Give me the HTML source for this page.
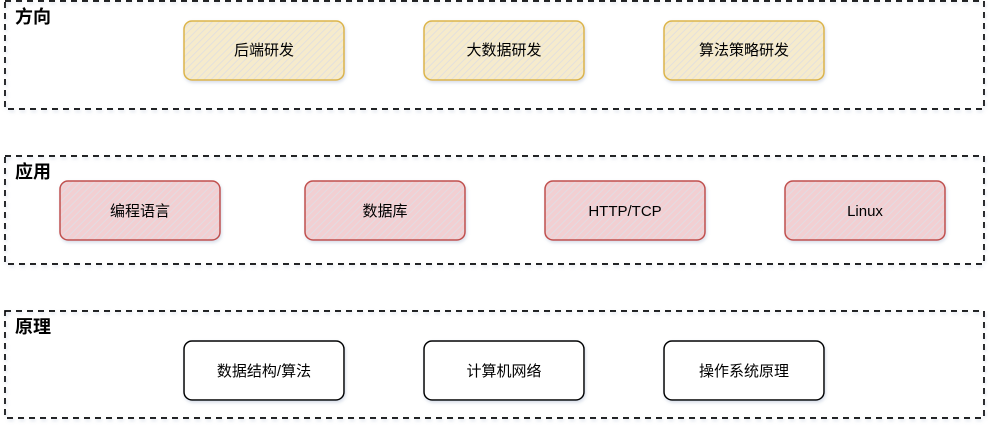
<!DOCTYPE html>
<html><head><meta charset="utf-8"><style>
html,body{margin:0;padding:0;background:#fff;}
svg text{font-family:"Liberation Sans","Noto Sans CJK SC",sans-serif;}
</style></head><body>
<svg width="997" height="434" viewBox="0 0 997 434" xmlns="http://www.w3.org/2000/svg">
<defs>
<pattern id="hy" width="5" height="5" patternUnits="userSpaceOnUse" patternTransform="rotate(45)">
<rect width="5" height="5" fill="#f6ebcc"/><line x1="0" y1="0" x2="0" y2="5" stroke="#e3e0dd" stroke-width="2"/></pattern>
<pattern id="hr" width="5" height="5" patternUnits="userSpaceOnUse" patternTransform="rotate(45)">
<rect width="5" height="5" fill="#f2cfd2"/><line x1="0" y1="0" x2="0" y2="5" stroke="#e2dce2" stroke-width="2"/></pattern>
<filter id="sh" x="-10%" y="-10%" width="120%" height="130%"><feDropShadow dx="1" dy="2" stdDeviation="1.5" flood-color="#8fa0c0" flood-opacity="0.35"/></filter>
</defs>
<g fill="none" stroke="#000" stroke-width="1.7" stroke-dasharray="6 5" filter="url(#sh)">
<rect x="5" y="1" width="979" height="108"/>
<rect x="5" y="156" width="979" height="108"/>
<rect x="5" y="311" width="979" height="107"/>
</g>
<g font-size="18" font-weight="bold" fill="#000">
<text x="15" y="23">方向</text>
<text x="15" y="178">应用</text>
<text x="15" y="333">原理</text>
</g>
<g filter="url(#sh)" stroke-width="1.5">
<rect x="184" y="21" width="160" height="59" rx="8" fill="url(#hy)" stroke="#dcb448"/>
<rect x="424" y="21" width="160" height="59" rx="8" fill="url(#hy)" stroke="#dcb448"/>
<rect x="664" y="21" width="160" height="59" rx="8" fill="url(#hy)" stroke="#dcb448"/>
<rect x="60" y="181" width="160" height="59" rx="8" fill="url(#hr)" stroke="#c0504d"/>
<rect x="305" y="181" width="160" height="59" rx="8" fill="url(#hr)" stroke="#c0504d"/>
<rect x="545" y="181" width="160" height="59" rx="8" fill="url(#hr)" stroke="#c0504d"/>
<rect x="785" y="181" width="160" height="59" rx="8" fill="url(#hr)" stroke="#c0504d"/>
<rect x="184" y="341" width="160" height="59" rx="8" fill="#fff" stroke="#000"/>
<rect x="424" y="341" width="160" height="59" rx="8" fill="#fff" stroke="#000"/>
<rect x="664" y="341" width="160" height="59" rx="8" fill="#fff" stroke="#000"/>
</g>
<g font-size="15" fill="#000" text-anchor="middle">
<text x="264" y="55">后端研发</text>
<text x="504" y="55">大数据研发</text>
<text x="744" y="55">算法策略研发</text>
<text x="140" y="216">编程语言</text>
<text x="385" y="216">数据库</text>
<text x="625" y="216">HTTP/TCP</text>
<text x="865" y="216">Linux</text>
<text x="264" y="376">数据结构/算法</text>
<text x="504" y="376">计算机网络</text>
<text x="744" y="376">操作系统原理</text>
</g>
</svg>
</body></html>
